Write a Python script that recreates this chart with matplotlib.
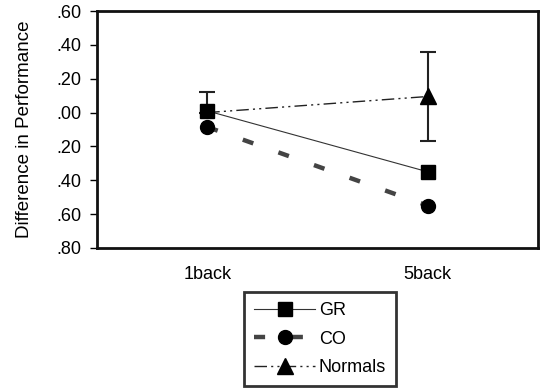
import matplotlib.pyplot as plt
from matplotlib.ticker import FixedLocator, FixedFormatter

conditions = ["1back", "5back"]
gr = [0.01, -0.35]
co = [-0.085, -0.55]
normals = [0.0, 0.095]
normals_err_low = [0.0, 0.265]
normals_err_high = [0.12, 0.265]

ytick_vals = [0.6, 0.4, 0.2, 0.0, -0.2, -0.4, -0.6, -0.8]
ytick_labels = [".60", ".40", ".20", ".00", ".20", ".40", ".60", ".80"]

plt.rcParams['font.family'] = ['Liberation Sans', 'DejaVu Sans']

fig = plt.figure(figsize=(5.43, 3.89), dpi=100)
ax = fig.add_axes([0.1786, 0.3625, 0.8122, 0.6092])

x = range(len(conditions))

ax.errorbar(x, normals, yerr=[normals_err_low, normals_err_high], fmt='none',
            ecolor='#222222', elinewidth=1.5, capsize=6, capthick=1.5, zorder=2)

# triangle at 1back sits hidden behind the GR square in the original
ax.plot(x, normals, color='#222222', lw=1.0, dashes=(9, 3, 1.5, 3, 1.5, 3),
        marker='^', ms=11, mfc='black', mec='black', markevery=[1],
        label='Normals', zorder=3)
ax.plot(x, co, color='#444444', lw=3.2, dashes=(2.5, 6), marker='o', ms=10,
        mfc='black', mec='black', label='CO', zorder=4)
ax.plot(x, gr, color='#333333', lw=0.8, marker='s', ms=10, mfc='black',
        mec='black', label='GR', zorder=5)

ax.set_xlim(-0.5, 1.5)
ax.set_ylim(-0.8, 0.6)
ax.yaxis.set_major_locator(FixedLocator(ytick_vals))
ax.yaxis.set_major_formatter(FixedFormatter(ytick_labels))
ax.set_xticks(list(x))
ax.set_xticklabels(conditions)
ax.tick_params(axis='x', length=0, pad=13, labelsize=13)
ax.tick_params(axis='y', length=5, width=1, labelsize=13, direction='out', pad=6)
ax.set_ylabel('Difference in Performance', fontsize=13.5, labelpad=17)

for s in ax.spines.values():
    s.set_linewidth(2)
    s.set_color('#111111')

handles, labels = ax.get_legend_handles_labels()
order = [2, 1, 0]
leg = fig.legend([handles[i] for i in order], [labels[i] for i in order],
                 loc='upper center', bbox_to_anchor=(320 / 543, 1 - 292 / 389),
                 frameon=True, fancybox=False, edgecolor='black',
                 handlelength=3.4, handletextpad=0.2, fontsize=13,
                 borderpad=0.55, labelspacing=0.65, borderaxespad=0)
leg.get_frame().set_linewidth(2)

fig.savefig('out.png', dpi=100)
